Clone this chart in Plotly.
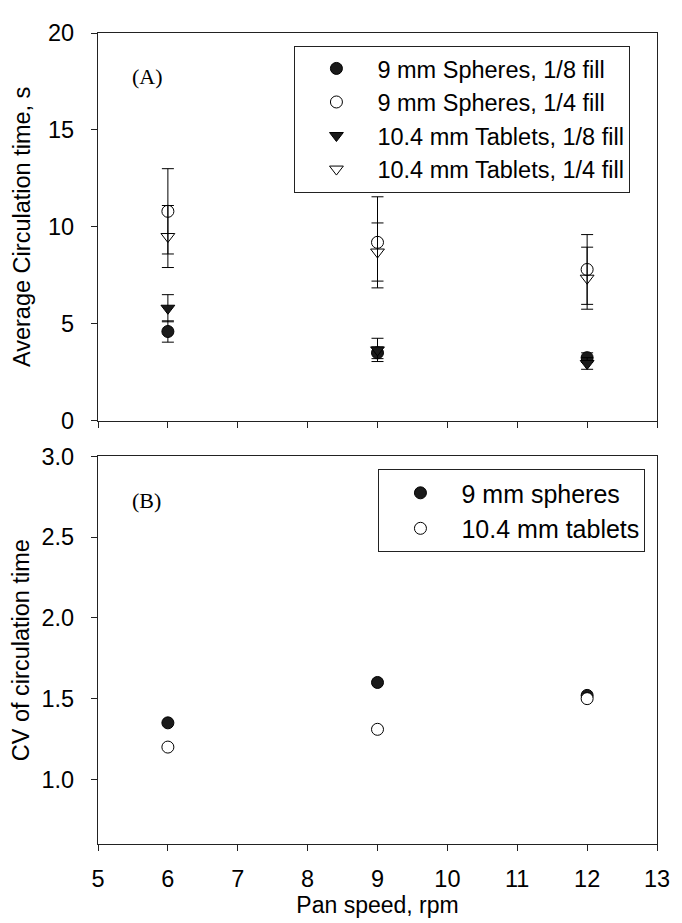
import plotly.graph_objects as go

pan_speed = [6, 9, 12]

# Panel A: average circulation time (s) with error bars
sph_18 = [4.6, 3.5, 3.25]
sph_18_err = [0.55, 0.3, 0.25]
sph_14 = [10.8, 9.2, 7.8]
sph_14_err = [2.2, 2.35, 1.8]
tab_18 = [5.8, 3.65, 2.95]
tab_18_err = [0.7, 0.6, 0.3]
tab_14 = [9.5, 8.7, 7.35]
tab_14_err = [1.6, 1.5, 1.6]

# Panel B: CV of circulation time
cv_spheres = [1.35, 1.60, 1.52]
cv_tablets = [1.20, 1.31, 1.50]

FONT = "Liberation Sans, Arial, sans-serif"
SERIF = "Liberation Serif, Times New Roman, serif"
FS = 23.5
fig = go.Figure()

def add_err(name, y, err, symbol, color):
    fig.add_trace(go.Scatter(
        x=pan_speed, y=y, mode="markers", name=name,
        marker=dict(symbol=symbol, size=12, color=color,
                    line=dict(color="black", width=1)),
        error_y=dict(type="data", array=err, visible=True,
                     color="black", thickness=1, width=6),
        xaxis="x", yaxis="y", legend="legend"))

add_err("9 mm Spheres, 1/8 fill", sph_18, sph_18_err, "circle", "#1a1a1a")
add_err("9 mm Spheres, 1/4 fill", sph_14, sph_14_err, "circle-open", "black")
add_err("10.4 mm Tablets, 1/8 fill", tab_18, tab_18_err, "triangle-down", "#1a1a1a")
add_err("10.4 mm Tablets, 1/4 fill", tab_14, tab_14_err, "triangle-down-open", "black")

fig.add_trace(go.Scatter(
    x=pan_speed, y=cv_spheres, mode="markers", name="9 mm spheres",
    marker=dict(symbol="circle", size=12, color="#1a1a1a",
                line=dict(color="black", width=1)),
    xaxis="x2", yaxis="y2", legend="legend2"))
fig.add_trace(go.Scatter(
    x=pan_speed, y=cv_tablets, mode="markers", name="10.4 mm tablets",
    marker=dict(symbol="circle", size=12, color="white",
                line=dict(color="black", width=1)),
    xaxis="x2", yaxis="y2", legend="legend2"))

axis_common = dict(showline=True, linecolor="#222", linewidth=1.2, mirror=True,
                   ticks="outside", ticklen=6, tickcolor="#222", showgrid=False,
                   zeroline=False, tickfont=dict(size=FS, family=FONT, color="black"))

# The page body adds an 8px offset; the figure is sized to fill the rest of the window.
fig.update_layout(
    width=674, height=915,
    margin=dict(l=86, r=16, t=14, b=66),
    plot_bgcolor="white", paper_bgcolor="white",
    font=dict(family=FONT, color="black", size=FS),
    showlegend=True,
    xaxis=dict(domain=[0, 1], range=[5, 13], dtick=1, showticklabels=False,
               anchor="y", **axis_common),
    yaxis=dict(domain=[0.522, 1], range=[0, 20], dtick=5, anchor="x",
               ticklabelstandoff=12,
               title=dict(text="Average Circulation time, s", font=dict(size=FS), standoff=10),
               **axis_common),
    xaxis2=dict(domain=[0, 1], range=[5, 13], dtick=1, anchor="y2",
                ticklabelstandoff=8,
                title=dict(text="Pan speed, rpm", font=dict(size=23), standoff=3),
                **axis_common),
    yaxis2=dict(domain=[0, 0.478], range=[0.6, 3.0], tickvals=[1.0, 1.5, 2.0, 2.5, 3.0],
                ticktext=["1.0", "1.5", "2.0", "2.5", "3.0"], anchor="x2",
                ticklabelstandoff=12,
                title=dict(text="CV of circulation time", font=dict(size=FS), standoff=5),
                **axis_common),
    legend=dict(x=0.3514, y=0.9844, xanchor="left", yanchor="top",
                bordercolor="#222", borderwidth=1, bgcolor="white",
                font=dict(size=23.5, family=FONT), tracegroupgap=0,
                itemwidth=72, entrywidth=268),
    legend2=dict(x=0.5017, y=0.4623, xanchor="left", yanchor="top",
                 bordercolor="#222", borderwidth=1, bgcolor="white",
                 font=dict(size=25, family=FONT), itemwidth=72, entrywidth=197),
    annotations=[
        dict(text="(A)", x=5.71, y=17.75, xref="x", yref="y", showarrow=False,
             font=dict(family=SERIF, size=22)),
        dict(text="(B)", x=5.7, y=2.727, xref="x2", yref="y2", showarrow=False,
             font=dict(family=SERIF, size=22)),
    ],
)

fig.write_html("out.html")
